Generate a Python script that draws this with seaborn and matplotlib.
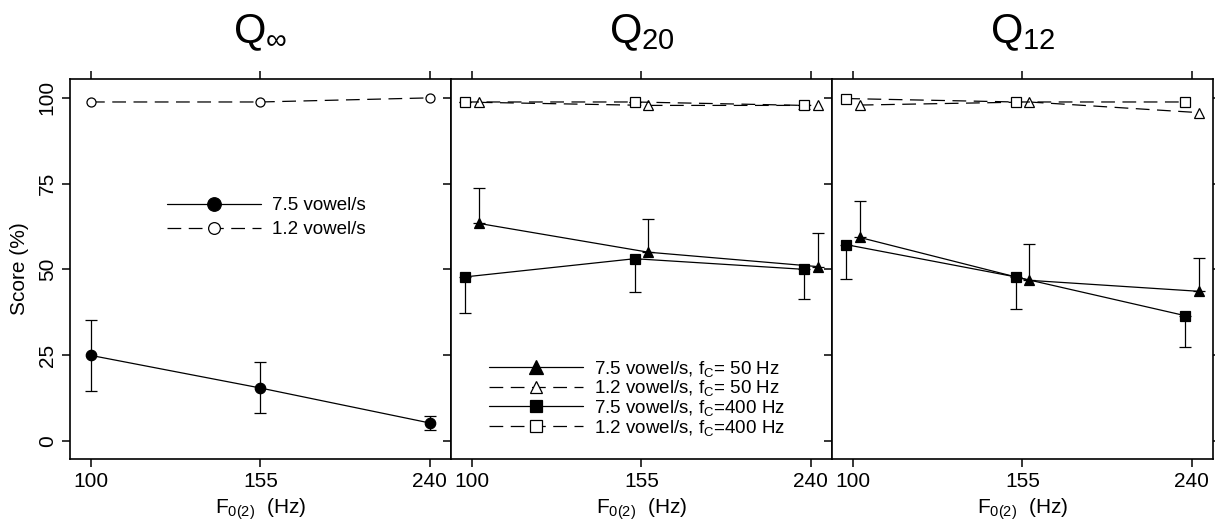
import numpy as np
import pandas as pd
import seaborn as sns
import matplotlib.pyplot as plt

# -----------------------------
# DATA
# -----------------------------
f0_labels = ["100", "155", "240"]
panel_titles = [r"Q$_{\infty}$", r"Q$_{20}$", r"Q$_{12}$"]

# Q-infinity panel
qinf_fast = [24.9, 15.4, 5.2]
qinf_fast_lo = [14.6, 8.2, 3.1]
qinf_fast_hi = [35.3, 23.0, 7.2]
qinf_slow = [98.8, 98.8, 100.0]

# Q20 panel
q20_fast_50 = [63.4, 55.0, 50.8]
q20_fast_50_hi = [73.8, 64.6, 60.7]
q20_slow_50 = [98.7, 97.8, 97.8]
q20_fast_400 = [47.8, 53.1, 50.0]
q20_fast_400_lo = [37.4, 43.3, 41.4]
q20_slow_400 = [98.8, 98.8, 97.8]
q20_slow_400_lo = [98.8, 98.8, 96.8]

# Q12 panel
q12_fast_50 = [59.3, 46.8, 43.6]
q12_fast_50_hi = [70.0, 57.5, 53.2]
q12_slow_50 = [97.9, 98.8, 95.7]
q12_fast_400 = [57.2, 47.8, 36.5]
q12_fast_400_lo = [47.3, 38.3, 27.4]
q12_slow_400 = [99.8, 98.8, 98.8]

# -----------------------------
# STYLE
# -----------------------------
sns.set_style("ticks")
plt.rcParams["font.family"] = ["Liberation Sans", "DejaVu Sans"]
plt.rcParams["mathtext.fontset"] = "custom"
plt.rcParams["mathtext.rm"] = "Liberation Sans"
plt.rcParams["mathtext.it"] = "Liberation Sans"
plt.rcParams["axes.linewidth"] = 1.2
for key in ["text.color", "axes.labelcolor", "axes.edgecolor",
            "xtick.color", "ytick.color"]:
    plt.rcParams[key] = "black"

DASH = (0, (11, 6))
LEG_FONT = {"family": ["Liberation Sans", "DejaVu Sans"], "size": 13.5}


def draw(ax, y, dx, marker, filled, dashed, ms, label=None, lo=None, hi=None):
    x = np.arange(len(y)) + dx
    sns.lineplot(x=x, y=y, ax=ax, color="black", lw=0.9,
                 linestyle=DASH if dashed else "-",
                 marker=marker, markersize=ms,
                 markerfacecolor="black" if filled else "white",
                 markeredgecolor="black", markeredgewidth=0.9,
                 label=label, zorder=3)
    if lo is not None or hi is not None:
        y = np.asarray(y)
        down = y - np.asarray(lo) if lo is not None else np.zeros_like(y)
        up = np.asarray(hi) - y if hi is not None else np.zeros_like(y)
        ax.errorbar(x, y, yerr=[down, up], fmt="none", ecolor="black",
                    elinewidth=0.9, capsize=4, capthick=0.9, zorder=2)


fig, axes = plt.subplots(1, 3, figsize=(12.15, 5.27), dpi=100, sharey=True)
fig.subplots_adjust(left=70 / 1215, right=1213 / 1215,
                    top=1 - 79 / 527, bottom=1 - 459 / 527, wspace=0)

off = 0.04

# Q-infinity
ax = axes[0]
draw(ax, qinf_fast, 0, "o", True, False, 7.5, "7.5 vowel/s",
     lo=qinf_fast_lo, hi=qinf_fast_hi)
draw(ax, qinf_slow, 0, "o", False, True, 6.5, "1.2 vowel/s")
ax.legend(loc="center left", bbox_to_anchor=(0.21, 0.635), frameon=False,
          handlelength=5.0, handletextpad=0.6, labelspacing=0.35,
          markerscale=1.3, prop=LEG_FONT)

# Q20
ax = axes[1]
draw(ax, q20_fast_50, off, "^", True, False, 7.5,
     r"7.5 vowel/s, f$_\mathrm{C}$= 50 Hz", hi=q20_fast_50_hi)
draw(ax, q20_slow_50, off, "^", False, True, 6.5,
     r"1.2 vowel/s, f$_\mathrm{C}$= 50 Hz")
draw(ax, q20_fast_400, -off, "s", True, False, 7.0,
     r"7.5 vowel/s, f$_\mathrm{C}$=400 Hz", lo=q20_fast_400_lo)
draw(ax, q20_slow_400, -off, "s", False, True, 6.5,
     r"1.2 vowel/s, f$_\mathrm{C}$=400 Hz", lo=q20_slow_400_lo)
ax.legend(loc="lower left", bbox_to_anchor=(0.055, 0.012), frameon=False,
          handlelength=5.0, handletextpad=0.6, labelspacing=-0.02,
          markerscale=1.3, prop=LEG_FONT)

# Q12
ax = axes[2]
draw(ax, q12_fast_50, off, "^", True, False, 7.5, hi=q12_fast_50_hi)
draw(ax, q12_slow_50, off, "^", False, True, 6.5)
draw(ax, q12_fast_400, -off, "s", True, False, 7.0, lo=q12_fast_400_lo)
draw(ax, q12_slow_400, -off, "s", False, True, 6.5)
if ax.get_legend() is not None:
    ax.get_legend().remove()

for i, ax in enumerate(axes):
    ax.set_xlim(-0.124, 2.125)
    ax.set_ylim(-5.3, 105.5)
    ax.set_xticks(range(len(f0_labels)))
    ax.set_xticklabels(f0_labels)
    ax.set_yticks([0, 25, 50, 75, 100])
    ax.tick_params(axis="both", direction="out", length=6, width=1.1,
                   labelsize=15, top=True, right=True,
                   labeltop=False, labelright=False)
    ax.set_xlabel(r"F$_{0(2)}$  (Hz)", fontsize=15, labelpad=4)
    ax.set_title(panel_titles[i], fontsize=30, pad=26)
    for s in ax.spines.values():
        s.set_visible(True)

axes[0].tick_params(axis="y", labelrotation=90)
for lab in axes[0].get_yticklabels():
    lab.set_va("center")
axes[0].set_ylabel("Score (%)", fontsize=15, labelpad=6)

plt.savefig("out.png", dpi=100)
